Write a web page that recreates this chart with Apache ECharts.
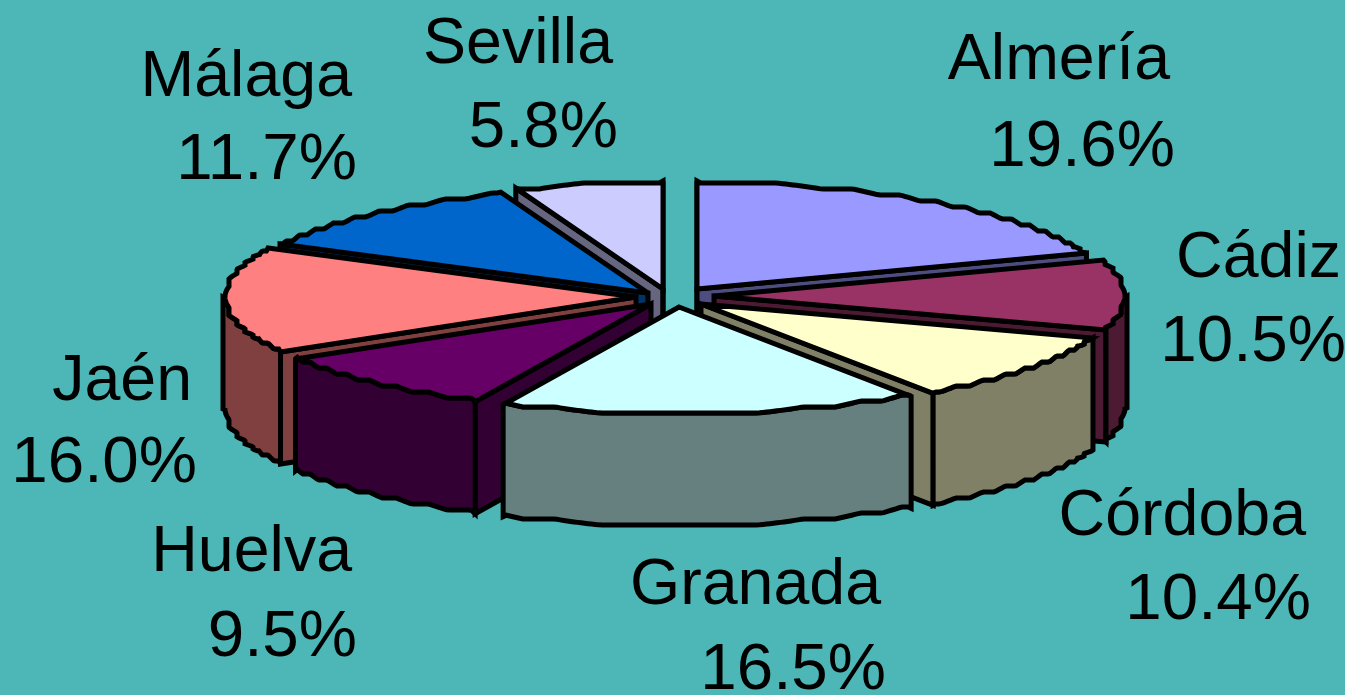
<!DOCTYPE html>
<html><head><meta charset="utf-8">
<style>html,body{margin:0;padding:0;background:#4DB6B6}#c{width:1345px;height:695px}</style>
<script src="https://cdn.jsdelivr.net/npm/echarts@6/dist/echarts.min.js"></script>
</head><body><div id="c"></div>
<script>
const categories = ['Almería','Cádiz','Córdoba','Granada','Huelva','Jaén','Málaga','Sevilla'];
const values = [19.6,10.5,10.4,16.5,9.5,16.0,11.7,5.8];
const topColors = ['#9999FF','#993366','#FFFFCC','#CCFFFF','#660066','#FF8080','#0066CC','#CCCCFF'];
const sideColors = ['#4D4D80','#4D1A33','#808066','#668080','#330033','#804040','#003366','#666680'];
// exploded-slice apex, paint rank, label anchor (right edge, first/second baselines)
const apexes = [[697,289],[714,296],[701,304],[679,307],[651,304],[636,297],[648,293],[663,289]];
const paintRank = [1,3,5,7,6,4,2,0];
const labelAnchors = [[1170,80,167],[1341,278,362],[1306,536,620],[881,605,690],[352,572,657],[192,401,483],[352,97,180],[613,64,148]];

const RX = 413, RY = 108, DEPTH = 112, NAME_FONT = 64.5, PCT_FONT = 65.5;
const total = values.reduce((a,b)=>a+b,0);
const stair = (v,q,s)=>{const u=Math.abs(v)+s,n=Math.floor(u/q),f=u/q-n;return Math.sign(v)*(q*(n+Math.min(1,Math.max(0,(f-0.5)/0.5)))-s);};
function rim(a0,a1,ax,ay,dy){
  const pts=[];const n=Math.max(2,Math.ceil((a1-a0)/0.5));
  for(let i=0;i<=n;i++){
    const a=a0+(a1-a0)*i/n, r=a*Math.PI/180;
    let dx=RX*Math.sin(r), d=-RY*Math.cos(r);
    if(i>0&&i<n){
      if(Math.abs(Math.cos(r))>0.4) d=stair(d,6,2); else dx=stair(dx,8,1);
    }
    pts.push([ax+dx,ay+d+dy]);
  }
  return pts;
}
function renderItem(params,api){
  const i=params.dataIndex, v=api.value(0);
  let before=0; for(let k=0;k<i;k++) before+=values[k];
  const a0=before/total*360, a1=(before+v)/total*360;
  const [ax,ay]=apexes[i];
  const z=paintRank[i]*10;
  const line={stroke:'#000',lineWidth:5,lineJoin:'miter',miterLimit:3};
  const poly=(points,fill,dz)=>({type:'polygon',z2:z+dz,shape:{points},style:Object.assign({fill},line)});
  const kids=[];
  const face=a=>{
    const c=rim(a,a,ax,ay,0)[0];
    kids.push(poly([[ax,ay],c,[c[0],c[1]+DEPTH],[ax,ay+DEPTH]],sideColors[i],0));
  };
  if(Math.sin(a0*Math.PI/180)<=1e-6) face(a0);
  if(Math.sin(a1*Math.PI/180)>=-1e-6) face(a1);
  const w0=Math.max(a0,90), w1=Math.min(a1,270);
  if(w1>w0){
    kids.push(poly(rim(w0,w1,ax,ay,0).concat(rim(w0,w1,ax,ay,DEPTH).reverse()),sideColors[i],1));
  }
  kids.push(poly([[ax,ay]].concat(rim(a0,a1,ax,ay,0)),topColors[i],2));
  const [lx,b1,b2]=labelAnchors[i];
  [[api.value(1),b1,lx,NAME_FONT],[v.toFixed(1)+'%',b2,lx+5,PCT_FONT]].forEach(([t,y,x,fs])=>{
    kids.push({type:'text',z2:1000,style:{text:t,x:x,y:y+14,fill:'#000',
      font:fs+'px "Liberation Sans"',textAlign:'right',textVerticalAlign:'bottom'}});
  });
  return {type:'group',children:kids};
}
const chart=echarts.init(document.getElementById('c'),null,{renderer:'canvas'});
chart.setOption({
  backgroundColor:'#4DB6B6',animation:false,
  series:[{type:'custom',coordinateSystem:'none',silent:true,renderItem,
    data:values.map((v,i)=>({value:[v,categories[i]]})),
    dimensions:[{name:'share',type:'number'},{name:'name',type:'ordinal'}],
    encode:{value:0}}]
});
</script></body></html>
